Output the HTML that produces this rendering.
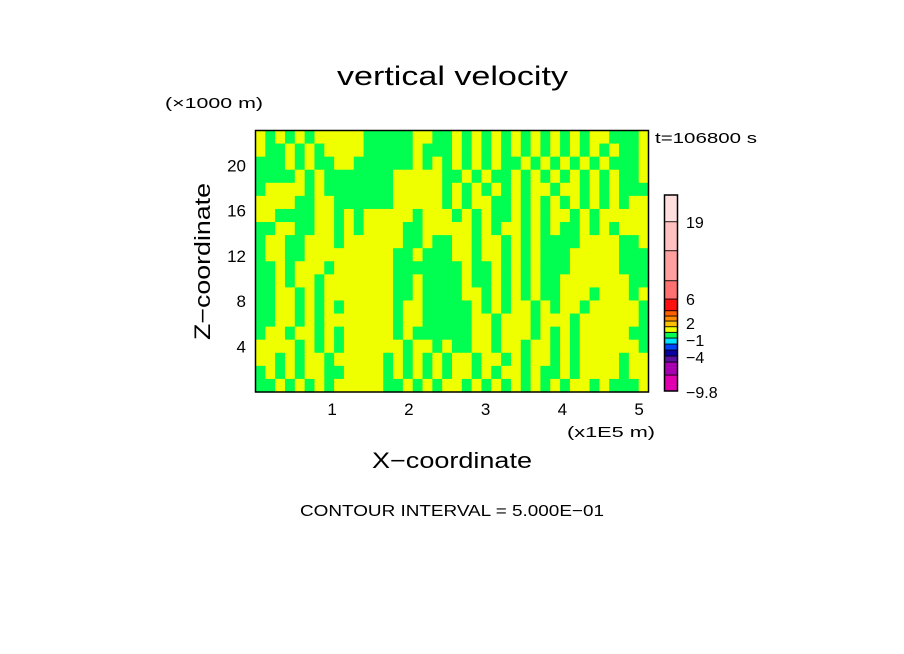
<!DOCTYPE html>
<html><head><meta charset="utf-8"><style>
html,body{margin:0;padding:0;background:#fff;}
svg{display:block;font-family:"Liberation Sans",sans-serif;}
</style></head><body>
<svg id="chart" width="904" height="654" viewBox="0 0 904 654">
<text x="337" y="85" font-size="27" textLength="231" lengthAdjust="spacingAndGlyphs">vertical velocity</text>
<text x="165" y="108" font-size="15" textLength="98" lengthAdjust="spacingAndGlyphs">(×1000 m)</text>
<text x="655" y="143" font-size="15" textLength="102" lengthAdjust="spacingAndGlyphs">t=106800 s</text>
<g id="field"></g>
<rect x="255.5" y="130.5" width="393" height="261.5" fill="none" stroke="#000" stroke-width="1.5"/>
<g id="yticks"></g>
<g id="xticks"></g>
<text x="567" y="437" font-size="15" textLength="88" lengthAdjust="spacingAndGlyphs">(x1E5 m)</text>
<text x="372" y="468" font-size="22" textLength="160" lengthAdjust="spacingAndGlyphs">X−coordinate</text>
<text transform="translate(210,340) rotate(-90)" font-size="22" textLength="157" lengthAdjust="spacingAndGlyphs">Z−coordinate</text>
<g id="cbar"></g>
<text x="300" y="516" font-size="16" textLength="304" lengthAdjust="spacingAndGlyphs">CONTOUR INTERVAL = 5.000E−01</text>
</svg>
<script>
// coarse field map: Y = yellow (0 to 0.5), G = green (-0.5 to 0), top row first
const fieldRows = [
"YGYGYGYYYYYGGGGGYYGGYGYGYGYGYGYGYGYYGGGY",
"YGGYGYGYYYYGGGGGYGGGYGYGYGYGYGYGYGYGYGGY",
"GGGYGYGGYYGGGGGGYGYGYGYGYGGYGYGYGYGYGGGY",
"GGGGYGYGGGGGGGYYYYYGGYGYGGYGYGYGYGYGYGGY",
"GYYYYGYGGGGGGGYYYYYGYGYGYGYGYYGYYGYGYGGG",
"YYYYGGYYGGGGGGYYYYYGYGYYGGYGYGYGYGYGYGYY",
"YYGGGGYYGYGYYYYYGYYYGYGYGGYGYGYYGYGYYYYY",
"GGYYGGYYGYGYYYYGGYYYYYGYGYYGYGYGGYGYGYYY",
"GYYGGYYYGYYYYYYGGYGGYYGYYGYGYGGGGYYYYGGY",
"GYYGGYYYYYYYYYGGYGGGYYGYYGYGYGGGYYYYYGGG",
"GGYGYYYGYYYYYYGGGGGGGYGGYGYGYGGGYYYYYGGG",
"GGYGYYGYYYYYYYGGYGGGGYGGYGYGYGGYYYYYYYGG",
"GGYYGYGYYYYYYYGGYGGGGYYGYGYGYGGYYYGYYYGY",
"GGYYGYGYGYYYYYGYYGGGGGYGYGYYGYGYYGYYYYYG",
"GGYYGYGYYYYYYYGYYGGGGGYYGYYYGYYYGYYYYYYG",
"GYYGYYGYGYYYYYGYGGGGGGYYGYYYGYGYGYYYYYGG",
"YYYYGYGYGYYYYYYGYYGYGGYYGYYGYYGYGYYYYYYG",
"YYGYGYYGYYYYYGYGYGYGYYGYYGYGYYGYGYYYYGYY",
"GYGYGYYGGYYYYGYGYGYGYYGYGYYGYGGYGYYYYGYY",
"GGYGYGYGYYYYYGGYGYGYYGYGYGYGYGYGYYGYGGGY"
];
const xTicks = [1,2,3,4,5];
const yTicks = [4,8,12,16,20];
const cbarColors = ["#e000b0","#a800b0","#5a10a0","#0a00a0","#0044ff","#00e0ff","#00ff50","#f0ff00","#ffc000","#ff8c00","#ff6000","#ff1010","#ff7070","#ffa0a0","#ffc0c0","#ffdede"];
const cbarLabels = ["−9.8","−4","−1","2","6","19"];

const NS="http://www.w3.org/2000/svg";
const X0=255.5,X1=648.5,Y0=130.5,Y1=392;
const xScale=v=>255.3+v*76.75;
const yScale=v=>391.5-v*11.31;
const fld=document.getElementById('field');
const colMap={Y:"#f0ff00",G:"#00ff50"};
fieldRows.forEach((row,ri)=>{
  const h=(Y1-Y0)/fieldRows.length, w=(X1-X0)/row.length;
  for(let ci=0;ci<row.length;ci++){
    const r=document.createElementNS(NS,'rect');
    r.setAttribute('x',X0+ci*w);r.setAttribute('y',Y0+ri*h);
    r.setAttribute('width',w+0.6);r.setAttribute('height',h+0.6);
    r.setAttribute('fill',colMap[row[ci]]);
    
    
    fld.appendChild(r);
  }
});
const xt=document.getElementById('xticks');
xTicks.forEach(v=>{
  const t=document.createElementNS(NS,'text');
  t.setAttribute('x',xScale(v));t.setAttribute('y',415);
  t.setAttribute('font-size','17');t.setAttribute('text-anchor','middle');
  t.textContent=v;
  
  
  xt.appendChild(t);
});
const yt=document.getElementById('yticks');
yTicks.forEach(v=>{
  const t=document.createElementNS(NS,'text');
  t.setAttribute('x',246);t.setAttribute('y',yScale(v)+6);
  t.setAttribute('font-size','17');t.setAttribute('text-anchor','end');
  t.textContent=v;
  
  
  yt.appendChild(t);
});
const cb=document.getElementById('cbar');
const bandEdges=[391,375,362,356,350,344,338,332.3,326.7,321,316,310.7,299,280.7,250.7,221.7,195];
cbarColors.forEach((c,i)=>{
  const r=document.createElementNS(NS,'rect');
  const yb=bandEdges[i],yt2=bandEdges[i+1];
  r.setAttribute('x',664.5);r.setAttribute('y',yt2);
  r.setAttribute('width',13);r.setAttribute('height',yb-yt2);
  r.setAttribute('fill',c);r.setAttribute('stroke','#000');r.setAttribute('stroke-width','0.8');
  
  
  cb.appendChild(r);
});
const fr=document.createElementNS(NS,'rect');
fr.setAttribute('x',664.5);fr.setAttribute('y',195);fr.setAttribute('width',13);fr.setAttribute('height',196);
fr.setAttribute('fill','none');fr.setAttribute('stroke','#000');fr.setAttribute('stroke-width','1.5');


cb.appendChild(fr);
const labY=[392,357,340,323,299,222];
cbarLabels.forEach((lab,i)=>{
  const t=document.createElementNS(NS,'text');
  t.setAttribute('x',686);t.setAttribute('y',labY[i]+6);
  t.setAttribute('font-size','16');
  t.textContent=lab;
  
  
  cb.appendChild(t);
});
</script>
</body></html>
